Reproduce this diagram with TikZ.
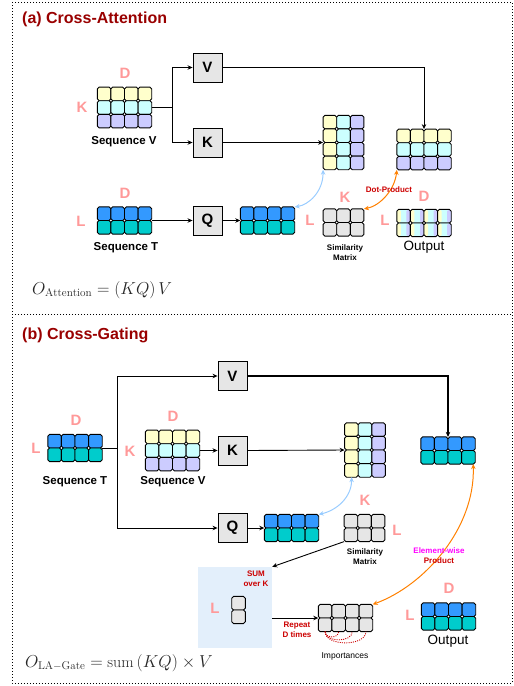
\documentclass[tikz,border=0pt]{standalone}
\usepackage{amsmath}
\usepackage{fontspec}
\setsansfont{Liberation Sans}
\usetikzlibrary{arrows.meta, calc}
\definecolor{cellyel}{HTML}{FFFFCC}
\definecolor{cellcyan}{HTML}{CCFFFF}
\definecolor{celllav}{HTML}{CCCCFF}
\definecolor{cellblue}{HTML}{3399FF}
\definecolor{cellteal}{HTML}{00CCCC}
\definecolor{cellgray}{HTML}{E6E6E6}
\definecolor{dimpink}{HTML}{FF9999}
\definecolor{titlered}{HTML}{990000}
\definecolor{notered}{HTML}{CC0000}
\definecolor{notemagenta}{HTML}{FF00FF}
\definecolor{linkblue}{HTML}{99CCFF}
\definecolor{linkorange}{HTML}{FF8000}
\definecolor{sumfill}{HTML}{E3EFFB}
\tikzset{
  cellbox/.style    = {draw=black, line width=0.9pt, rounded corners=1.8pt,
                       minimum size=13.6pt, inner sep=0pt, outer sep=0pt},
  gridframe/.style  = {inner sep=0pt, outer sep=0pt},
  stripecell/.style = {path picture={
      \fill[cellyel] (path picture bounding box.north west) rectangle
          ([xshift=4pt]path picture bounding box.south west);
      \fill[celllav] ([xshift=-4pt]path picture bounding box.north east) rectangle
          (path picture bounding box.south east);}},
}
% grid of cells, one fill per row: [cell style]{name}{centre}{cols}{rows}{fills}
\newcommand{\rowgrid}[6][]{%
  \node[gridframe, minimum width=#4*13.6pt, minimum height=#5*13.6pt] (#2) at #3 {};
  \foreach \gfill [count=\grow] in {#6} {
    \foreach \gcol in {1,...,#4}
      \node[cellbox, fill=\gfill, #1] (#2-\gcol-\grow)
        at ($(#2.north west)+({(\gcol-0.5)*13.6},{(\grow-0.5)*13.6})$) {};
  }%
}
% grid of cells, one fill per column: {name}{centre}{cols}{rows}{fills}
\newcommand{\colgrid}[5]{%
  \node[gridframe, minimum width=#3*13.6pt, minimum height=#4*13.6pt] (#1) at #2 {};
  \foreach \gfill [count=\gcol] in {#5} {
    \foreach \grow in {1,...,#4}
      \node[cellbox, fill=\gfill] (#1-\gcol-\grow)
        at ($(#1.north west)+({(\gcol-0.5)*13.6},{(\grow-0.5)*13.6})$) {};
  }%
}

\begin{document}
\begin{tikzpicture}[
    x=1pt, y=-1pt,
    >={Stealth[length=5pt, width=4.5pt]},
    opbox/.style    ={draw, fill=cellgray, line width=0.9pt, minimum size=29pt,
                      inner sep=0pt, font=\sffamily\bfseries\fontsize{15}{15}\selectfont},
    dimlbl/.style   ={text=dimpink, inner sep=0pt,
                      font=\sffamily\bfseries\fontsize{15}{15}\selectfont},
    seqlbl/.style   ={inner sep=0pt, font=\sffamily\bfseries\fontsize{11.5}{12}\selectfont},
    smalllbl/.style ={inner sep=0pt, align=center,
                      font=\sffamily\bfseries\fontsize{8}{10}\selectfont},
    notelbl/.style  ={inner sep=0pt, align=center, text=notered,
                      font=\sffamily\bfseries\fontsize{8}{10}\selectfont},
    outlbl/.style   ={inner sep=0pt, font=\sffamily\fontsize{13.5}{13.5}\selectfont},
    paneltitle/.style={anchor=west, inner sep=0pt, text=titlered,
                      font=\sffamily\bfseries\fontsize{16}{16}\selectfont},
    formula/.style  ={anchor=west, inner sep=0pt, text=black!85,
                      font=\fontsize{16}{17}\selectfont},
    panel/.style    ={draw, line width=0.8pt, dash pattern=on 0.9pt off 2.1pt},
    flow/.style     ={->, line width=0.9pt},
    blink/.style    ={<->, draw=linkblue, line width=1pt},
    olink/.style    ={<->, draw=linkorange, line width=1pt},
    repdots/.style  ={draw=notered, line width=0.9pt, dash pattern=on 1pt off 1.2pt},
  ]
  \useasboundingbox (0,0) rectangle (514,686);

  %% --- Panel (a): cross-attention ------------------------------------
  \draw[panel] (12,2) rectangle (512,314);
  \node[paneltitle] (titleA) at (22,19) {(a) Cross-Attention};

  % sequence V and its projections
  \rowgrid{seqVa}{(124.5,107.5)}{4}{3}{cellyel,cellcyan,celllav}
  \node[dimlbl] (seqVaD) at (125,73) {D};
  \node[dimlbl] (seqVaK) at (82,107) {K};
  \node[seqlbl] (seqVaT) at (124,142) {Sequence V};

  \node[opbox] (Va) at (207.5,67.5) {V};
  \node[opbox] (Ka) at (207.5,142.5) {K};
  \coordinate (splitA) at (172,107.5);
  \draw[line width=0.9pt] (seqVa.east) -- (splitA);
  \draw[flow] (splitA) |- (Va.west);
  \draw[flow] (splitA) |- (Ka.west);

  \colgrid{keyA}{(343.5,142.5)}{3}{4}{cellyel,cellcyan,celllav}
  \rowgrid{valA}{(424,149.5)}{4}{3}{cellyel,cellcyan,celllav}
  \draw[flow] (Va.east) -| (valA.north);
  \draw[flow, line width=1.2pt] (Ka.east) -- (keyA.west);

  % sequence T and the query
  \rowgrid{seqTa}{(124.5,220.5)}{4}{2}{cellblue,cellteal}
  \node[dimlbl] (seqTaD) at (125,193) {D};
  \node[dimlbl] (seqTaL) at (81,221) {L};
  \node[seqlbl] (seqTaT) at (126,248) {Sequence T};

  \node[opbox] (Qa) at (207.5,220.5) {Q};
  \draw[flow] (seqTa.east) -- (Qa.west);
  \rowgrid{qryA}{(267.5,220.5)}{4}{2}{cellblue,cellteal}
  \draw[flow] (Qa.east) -- (qryA.west);

  % similarity and output
  \rowgrid{simA}{(343.5,222.5)}{3}{2}{cellgray,cellgray}
  \node[dimlbl] (simAK) at (345,197) {K};
  \node[dimlbl] (simAL) at (310,220) {L};
  \node[smalllbl] (simAT) at (345,253) {Similarity\\Matrix};

  \rowgrid[stripecell]{outA}{(424,223)}{4}{2}{cellcyan,cellcyan}
  \node[dimlbl] (outAD) at (424,196) {D};
  \node[dimlbl] (outAL) at (385,220) {L};
  \node[outlbl] (outAT) at (424,247) {Output};

  \draw[blink] (qryA.north east) .. controls +(14,-2) and +(0,22) .. (keyA.south west);
  \draw[olink] (simA.north east) .. controls +(16,-3) and +(-2,20) .. (valA.south west);
  \node[notelbl] (dotlbl) at (389,190) {Dot-Product};

  \node[formula] (eqA) at (32,290) {$O_{\mathrm{Attention}} = (KQ)\,V$};

  %% --- Panel (b): cross-gating ---------------------------------------
  \draw[panel] (12,314) rectangle (512,683);
  \node[paneltitle] (titleB) at (22,335) {(b) Cross-Gating};

  \rowgrid{seqTb}{(75,448)}{4}{2}{cellblue,cellteal}
  \node[dimlbl] (seqTbD) at (76,420) {D};
  \node[dimlbl] (seqTbL) at (36,448) {L};
  \node[seqlbl] (seqTbT) at (75,482) {Sequence T};

  \node[opbox] (Vb) at (232.5,376) {V};
  \node[opbox] (Kb) at (232.5,450.5) {K};
  \node[opbox] (Qb) at (232.5,528) {Q};
  \coordinate (splitB) at (117,448);
  \draw[line width=0.9pt] (seqTb.east) -- (splitB);
  \draw[flow] (splitB) |- (Vb.west);
  \draw[flow] (splitB) |- (Qb.west);

  \rowgrid{seqVb}{(172.5,450.5)}{4}{3}{cellyel,cellcyan,celllav}
  \node[dimlbl] (seqVbD) at (173,416) {D};
  \node[dimlbl] (seqVbK) at (130,451) {K};
  \node[seqlbl] (seqVbT) at (173,482) {Sequence V};
  \draw[flow] (seqVb.east) -- (Kb.west);

  \colgrid{keyB}{(365,450)}{3}{4}{cellyel,cellcyan,celllav}
  \draw[flow] (Kb.east) -- (keyB.west);
  \rowgrid{gateB}{(448,450.5)}{4}{2}{cellblue,cellteal}
  \draw[flow, line width=1.2pt] (Vb.east) -| (gateB.north);

  \rowgrid{qryB}{(291.5,528)}{4}{2}{cellblue,cellteal}
  \draw[flow] (Qb.east) -- (qryB.west);
  \rowgrid{simB}{(364.5,528)}{3}{2}{cellgray,cellgray}
  \node[dimlbl] (simBK) at (365,500) {K};
  \node[dimlbl] (simBL) at (397,530) {L};
  \node[smalllbl] (simBT) at (365,557) {Similarity\\Matrix};
  \draw[blink] (qryB.north east) .. controls +(18,-4) and +(0,20) .. ([xshift=7pt]keyB.south west);

  % sum over K, repeated D times
  \node[fill=sumfill, minimum width=74pt, minimum height=81pt, inner sep=0pt] (sumbox) at (235,607.5) {};
  \draw[flow] (simB.south west) -- (sumbox.north east);
  \node[notelbl] (sumlbl) at (256,579) {SUM\\over K};
  \rowgrid{colB}{(238.5,610)}{1}{2}{cellgray,cellgray}
  \node[dimlbl] (colBL) at (215,608) {L};

  \rowgrid{impB}{(345.5,618)}{4}{2}{cellgray,cellgray}
  \draw[flow] (sumbox.east |- impB.west) -- (impB.west);
  \node[notelbl] (replbl) at (297,630) {Repeat\\D times};
  \node[smalllbl, font=\sffamily\fontsize{8.5}{10}\selectfont] (impT) at (345,656) {Importances};
  \foreach \k/\dep in {2/7, 3/11, 4/15}
    \draw[repdots] (impB-1-2.south) .. controls +(0,\dep) and +(0,\dep) .. (impB-\k-2.south);

  % gated output
  \draw[olink] (impB.north east) .. controls +(52,-19) and +(2,64) .. ([xshift=-2pt]gateB.south east);
  \node[notelbl, text=notemagenta] (ewlbl) at (439,551) {Element-wise};
  \node[notelbl] (prodlbl) at (439,561) {Product};

  \rowgrid{outB}{(448.5,616.5)}{4}{2}{cellblue,cellteal}
  \node[dimlbl] (outBD) at (449,588) {D};
  \node[dimlbl] (outBL) at (410,615) {L};
  \node[outlbl] (outBT) at (448,641) {Output};

  \node[formula] (eqB) at (25,663) {$O_{\mathrm{LA-Gate}} = \mathrm{sum}\,(KQ) \times V$};
\end{tikzpicture}
\end{document}
